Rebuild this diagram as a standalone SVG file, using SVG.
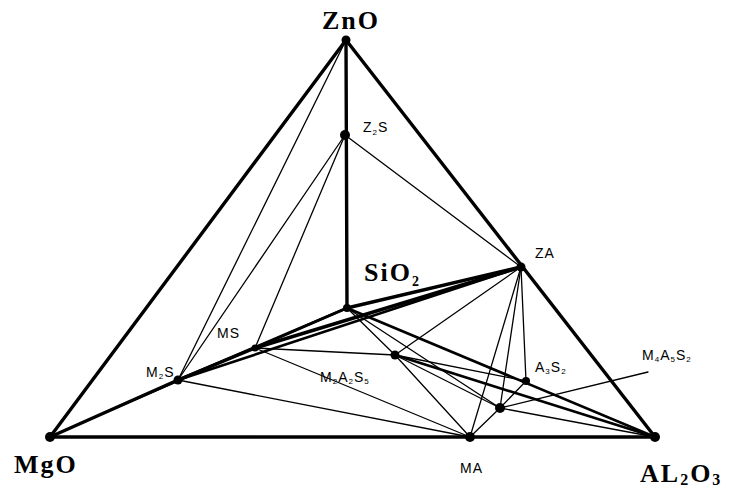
<svg xmlns="http://www.w3.org/2000/svg" width="736" height="491" viewBox="0 0 736 491">
<style>
.bg{fill:#fff}
.k{stroke:#000;fill:none;stroke-linecap:round}
.t1{stroke-width:1.3}
.t2{stroke-width:2.6}
.t3{stroke-width:3.4}
.dot{fill:#000}
.big{font-family:"Liberation Serif",serif;font-weight:bold;font-size:26px;fill:#000;letter-spacing:2px}
.sm{font-family:"Liberation Sans",sans-serif;font-size:14px;fill:#000;letter-spacing:1px}
.sub{font-size:8px}
</style>
<rect class="bg" width="736" height="491"/>
<g id="connectors" class="k">
<line class="t3" x1="346" y1="40" x2="50" y2="437"/>
<line class="t3" x1="346" y1="40" x2="655" y2="437"/>
<line class="t3" x1="50" y1="437" x2="655" y2="437"/>
<line class="t3" x1="346" y1="40" x2="347" y2="308" stroke-width="4"/>
<line class="t1" x1="346" y1="40" x2="178" y2="380"/>
<line class="t1" x1="345" y1="135" x2="255" y2="348"/>
<line class="t1" x1="345" y1="135" x2="178" y2="380"/>
<line class="t1" x1="345" y1="135" x2="521" y2="267"/>
<line class="t3" x1="50" y1="437" x2="178" y2="380" stroke-width="4"/>
<line class="t1" x1="50" y1="437" x2="255" y2="348"/>
<line class="t3" x1="178" y1="380" x2="255" y2="348" stroke-width="4"/>
<line class="t2" x1="178" y1="380" x2="347" y2="308"/>
<line class="t2" x1="178" y1="380" x2="521" y2="267"/>
<line class="t1" x1="178" y1="380" x2="470" y2="437"/>
<line class="t2" x1="255" y1="348" x2="347" y2="308"/>
<line class="t3" x1="255" y1="348" x2="521" y2="267"/>
<line class="t1" x1="255" y1="348" x2="395" y2="355"/>
<line class="t1" x1="255" y1="348" x2="470" y2="437"/>
<line class="t3" x1="347" y1="308" x2="521" y2="267"/>
<line class="t2" x1="347" y1="308" x2="655" y2="437" stroke-width="3"/>
<line class="t1" x1="347" y1="308" x2="395" y2="355"/>
<line class="t1" x1="347" y1="308" x2="500" y2="408"/>
<line class="t1" x1="521" y1="267" x2="395" y2="355"/>
<line class="t1" x1="521" y1="267" x2="470" y2="437"/>
<line class="t1" x1="521" y1="267" x2="500" y2="408"/>
<line class="t1" x1="521" y1="267" x2="526" y2="381"/>
<line class="t2" x1="395" y1="355" x2="655" y2="437" stroke-width="3"/>
<line class="t1" x1="395" y1="355" x2="470" y2="437"/>
<line class="t1" x1="395" y1="355" x2="526" y2="381"/>
<line class="t1" x1="395" y1="355" x2="500" y2="408"/>
<line class="t1" x1="500" y1="408" x2="655" y2="437"/>
<line class="t1" x1="500" y1="408" x2="470" y2="437"/>
<line class="t1" x1="500" y1="408" x2="526" y2="381"/>
<line class="t1" x1="500" y1="408" x2="648" y2="372"/>
</g>
<g id="ZnO"><circle class="dot" cx="346" cy="40" r="4.5"/><text class="big" x="322" y="29">ZnO</text></g>
<g id="Z2S"><circle class="dot" cx="345" cy="135" r="5"/><text class="sm" x="363" y="132">Z<tspan class="sub" dy="3">2</tspan><tspan dy="-3">S</tspan></text></g>
<g id="ZA"><circle class="dot" cx="521" cy="267" r="4.5"/><text class="sm" x="535" y="258" letter-spacing="3">ZA</text></g>
<g id="SiO2"><circle class="dot" cx="347" cy="308" r="4"/><text class="big" x="364" y="281" font-size="22">SiO<tspan font-size="14" dy="5">2</tspan></text></g>
<g id="MS"><circle class="dot" cx="255" cy="348" r="3.5"/><text class="sm" x="217" y="338">MS</text></g>
<g id="M2S"><circle class="dot" cx="178" cy="380" r="4.5"/><text class="sm" x="146" y="377">M<tspan class="sub" dy="2">2</tspan><tspan dy="-2">S</tspan></text></g>
<g id="M2A2S5"><circle class="dot" cx="395" cy="355" r="4.5"/><text class="sm" x="320" y="382">M<tspan class="sub" dy="2">2</tspan><tspan dy="-2">A</tspan><tspan class="sub" dy="2">2</tspan><tspan dy="-2">S</tspan><tspan class="sub" dy="2">5</tspan></text></g>
<g id="A3S2"><circle class="dot" cx="526" cy="381" r="4"/><text class="sm" x="535" y="372">A<tspan class="sub" dy="2">3</tspan><tspan dy="-2">S</tspan><tspan class="sub" dy="2">2</tspan></text></g>
<g id="M4A5S2"><circle class="dot" cx="500" cy="408" r="5"/><text class="sm" x="642" y="360">M<tspan class="sub" dy="2">4</tspan><tspan dy="-2">A</tspan><tspan class="sub" dy="2">5</tspan><tspan dy="-2">S</tspan><tspan class="sub" dy="2">2</tspan></text></g>
<g id="MgO"><circle class="dot" cx="50" cy="437" r="5"/><text class="big" x="14" y="473" letter-spacing="3">MgO</text></g>
<g id="MA"><circle class="dot" cx="470" cy="437" r="5"/><text class="sm" x="460" y="473" font-size="13">MA</text></g>
<g id="Al2O3"><circle class="dot" cx="655" cy="437" r="5"/><text class="big" x="640" y="482" letter-spacing="3">AL<tspan font-size="16" dy="3">2</tspan><tspan dy="-3">O</tspan><tspan font-size="16" dy="3">3</tspan></text></g>
</svg>
